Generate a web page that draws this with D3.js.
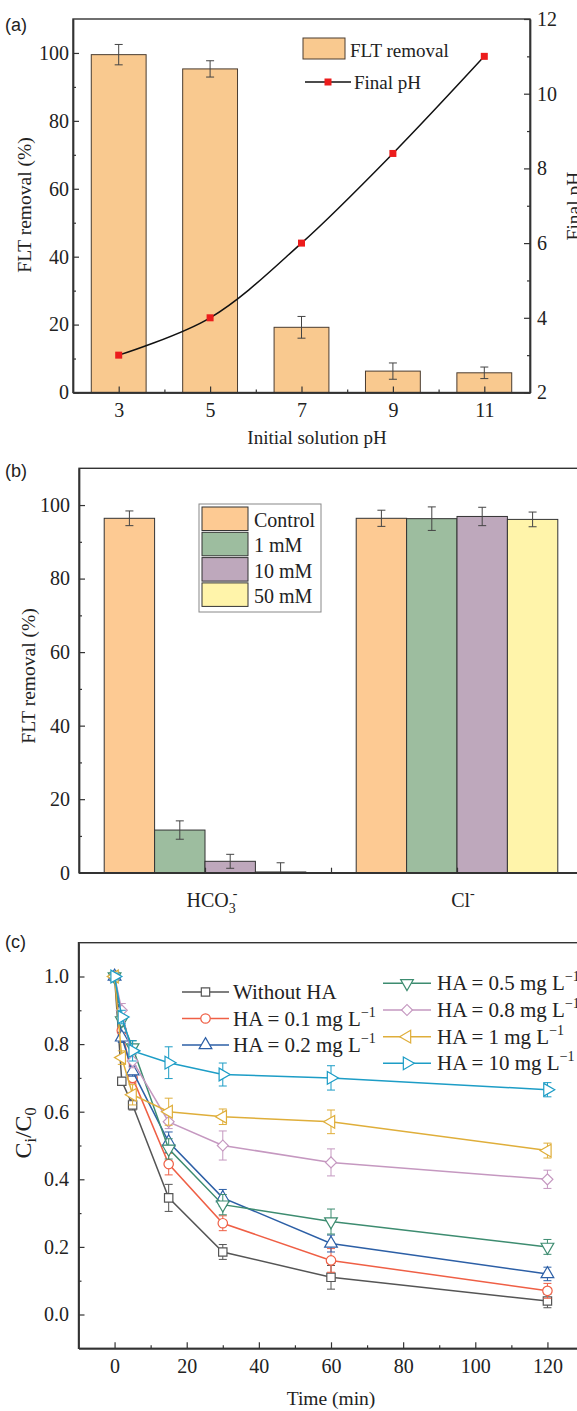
<!DOCTYPE html>
<html>
<head>
<meta charset="utf-8">
<title>FLT removal</title>
<script src="https://cdn.jsdelivr.net/npm/d3@7"></script>
<style>
  body { margin: 0; background: #fff; }
  svg text { font-family: "Liberation Serif", "Times New Roman", serif; fill: #222; }
  svg text.tag { font-family: "Liberation Sans", Arial, sans-serif; }
</style>
</head>
<body>
<script>
// panel (a): initial pH vs removal and final pH
var phInit = [3, 5, 7, 9, 11];
var removalA = [99.5, 95.3, 19.2, 6.3, 5.8];
var removalAErr = [3.0, 2.4, 3.2, 2.4, 1.7];
var phFinal = [3.0, 4.0, 6.0, 8.4, 11.0];

// panel (b): anions
var anions = ["HCO3", "Cl"];
var doses = ["Control", "1 mM", "10 mM", "50 mM"];
var hco3Removal = [96.4, 11.6, 3.1, 0.2];
var hco3Err = [2.0, 2.5, 1.9, 2.5];
var clRemoval = [96.4, 96.3, 96.9, 96.1];
var clErr = [2.2, 3.2, 2.5, 2.0];

// panel (c): HA kinetics
var times = [0, 2, 5, 15, 30, 60, 120];
var haDose = ["", "0.1", "0.2", "0.5", "0.8", "1", "10"];
var withoutHA = [1.0, 0.69, 0.62, 0.345, 0.185, 0.11, 0.04];
var ha01 = [1.0, 0.84, 0.70, 0.445, 0.27, 0.16, 0.07];
var ha02 = [1.0, 0.82, 0.72, 0.51, 0.345, 0.21, 0.12];
var ha05 = [1.0, 0.87, 0.79, 0.49, 0.325, 0.275, 0.20];
var ha08 = [1.0, 0.90, 0.75, 0.57, 0.50, 0.45, 0.40];
var ha1 = [1.0, 0.76, 0.65, 0.60, 0.585, 0.57, 0.485];
var ha10 = [1.0, 0.88, 0.78, 0.745, 0.71, 0.70, 0.665];
var withoutHAErr = [0.01, 0.01, 0.015, 0.04, 0.022, 0.035, 0.02];
var ha01Err = [0.01, 0.015, 0.015, 0.032, 0.022, 0.035, 0.022];
var ha02Err = [0.01, 0.015, 0.015, 0.03, 0.025, 0.025, 0.02];
var ha05Err = [0.01, 0.015, 0.02, 0.03, 0.03, 0.037, 0.022];
var ha08Err = [0.01, 0.02, 0.02, 0.02, 0.043, 0.04, 0.027];
var ha1Err = [0.01, 0.02, 0.03, 0.04, 0.023, 0.035, 0.022];
var ha10Err = [0.01, 0.02, 0.03, 0.047, 0.034, 0.036, 0.021];

var W = 577, H = 1411;
var svg = d3.select("body").append("svg").attr("width", W).attr("height", H);
var ink = "#333";

function styleAxis(g, size) {
  g.attr("font-family", '"Liberation Serif", serif').attr("font-size", size || 20).style("color", ink);
  g.selectAll("path").attr("stroke-width", 1.4);
  g.selectAll("line").attr("stroke-width", 1.2);
  g.selectAll("text").attr("fill", "#222");
}

function box(x0, x1, y0, y1) {
  svg.append("rect").attr("x", x0).attr("y", y0).attr("width", x1 - x0).attr("height", y1 - y0)
     .attr("fill", "none").attr("stroke", ink).attr("stroke-width", 1.4);
}

function errBar(g, x, yTop, yBot, color, cap) {
  g.append("line").attr("x1", x).attr("x2", x).attr("y1", yTop).attr("y2", yBot)
   .attr("stroke", color).attr("stroke-width", 1);
  [yTop, yBot].forEach(function(y) {
    g.append("line").attr("x1", x - cap).attr("x2", x + cap).attr("y1", y).attr("y2", y)
     .attr("stroke", color).attr("stroke-width", 1);
  });
}

// ================= (a) =================
var ax = d3.scaleLinear().domain([2, 12]).range([73, 530]);
var ayL = d3.scaleLinear().domain([0, 110]).range([392.5, 19]);
var ayR = d3.scaleLinear().domain([2, 12]).range([392.5, 19]);
var gA = svg.append("g");

gA.selectAll("rect.bar").data(phInit).enter().append("rect")
  .attr("x", function(d) { return ax(d - 0.6); })
  .attr("width", ax(1.2) - ax(0))
  .attr("y", function(d, i) { return ayL(removalA[i]); })
  .attr("height", function(d, i) { return ayL(0) - ayL(removalA[i]); })
  .attr("fill", "#f9c98f").attr("stroke", "#4a3c30").attr("stroke-width", 1);

phInit.forEach(function(d, i) {
  errBar(gA, ax(d), ayL(removalA[i] + removalAErr[i]), ayL(removalA[i] - removalAErr[i]), "#444", 4);
});

var lineA = d3.line().x(function(d) { return ax(d); })
  .y(function(d, i) { return ayR(phFinal[i]); }).curve(d3.curveCatmullRom);
gA.append("path").attr("d", lineA(phInit)).attr("fill", "none").attr("stroke", "#111").attr("stroke-width", 1.5);
gA.selectAll("rect.pt").data(phInit).enter().append("rect")
  .attr("x", function(d) { return ax(d) - 3.5; })
  .attr("y", function(d, i) { return ayR(phFinal[i]) - 3.5; })
  .attr("width", 7).attr("height", 7).attr("fill", "#ec1c1c");

box(73, 530, 19, 392.5);
var gax = svg.append("g").attr("transform", "translate(0,392.5)")
  .call(d3.axisBottom(ax).tickValues(phInit).tickSize(-6).tickSizeOuter(0).tickPadding(10));
styleAxis(gax);
styleAxis(svg.append("g").attr("transform", "translate(0,392.5)")
  .call(d3.axisBottom(ax).tickValues([4, 6, 8, 10]).tickSize(-3).tickSizeOuter(0).tickFormat("")));
styleAxis(svg.append("g").attr("transform", "translate(73,0)")
  .call(d3.axisLeft(ayL).tickValues([0, 20, 40, 60, 80, 100]).tickSize(-6).tickSizeOuter(0).tickPadding(4)));
styleAxis(svg.append("g").attr("transform", "translate(73,0)")
  .call(d3.axisLeft(ayL).tickValues([10, 30, 50, 70, 90]).tickSize(-3).tickSizeOuter(0).tickFormat("")));
styleAxis(svg.append("g").attr("transform", "translate(530,0)")
  .call(d3.axisRight(ayR).tickValues([2, 4, 6, 8, 10, 12]).tickSize(-6).tickSizeOuter(0).tickPadding(7)));
styleAxis(svg.append("g").attr("transform", "translate(530,0)")
  .call(d3.axisRight(ayR).tickValues([3, 5, 7, 9, 11]).tickSize(-3).tickSizeOuter(0).tickFormat("")));

svg.append("text").attr("class", "tag").attr("x", 5).attr("y", 31).attr("font-size", 18).text("(a)");
svg.append("text").attr("transform", "translate(31,205) rotate(-90)").attr("text-anchor", "middle")
  .attr("font-size", 19.5).text("FLT removal (%)");
svg.append("text").attr("transform", "translate(580,206) rotate(-90)").attr("text-anchor", "middle")
  .attr("font-size", 19.5).text("Final pH");
svg.append("text").attr("x", 317).attr("y", 444).attr("text-anchor", "middle")
  .attr("font-size", 19).text("Initial solution pH");

// legend (a)
svg.append("rect").attr("x", 303).attr("y", 38).attr("width", 42).attr("height", 21)
  .attr("fill", "#f9c98f").attr("stroke", "#4a3c30");
svg.append("text").attr("x", 350).attr("y", 57).attr("font-size", 19).text("FLT removal");
svg.append("line").attr("x1", 305).attr("x2", 351).attr("y1", 82).attr("y2", 82)
  .attr("stroke", "#111").attr("stroke-width", 1.5);
svg.append("rect").attr("x", 324.5).attr("y", 78.5).attr("width", 7).attr("height", 7).attr("fill", "#ec1c1c");
svg.append("text").attr("x", 354).attr("y", 89).attr("font-size", 19).text("Final pH");

// ================= (b) =================
var bx = d3.scaleLinear().domain([0.5, 2.5]).range([79, 583]);
var by = d3.scaleLinear().domain([0, 110]).range([872.7, 468.3]);
var inner = d3.scaleBand().domain(doses).range([-0.4, 0.4]);
var doseColors = ["#fdca93", "#9dbd9f", "#bea8bc", "#fff4aa"];
var gB = svg.append("g");
svg.append("clipPath").attr("id", "clipB").append("rect")
  .attr("x", 79).attr("y", 468.3).attr("width", 504).attr("height", 872.7 - 468.3);

var barsB = [];
anions.forEach(function(a, gi) {
  var vals = gi === 0 ? hco3Removal : clRemoval;
  var errs = gi === 0 ? hco3Err : clErr;
  doses.forEach(function(d, i) {
    barsB.push({ c: gi + 1, dose: d, i: i, v: vals[i], e: errs[i] });
  });
});

gB.selectAll("rect").data(barsB).enter().append("rect")
  .attr("x", function(d) { return bx(d.c + inner(d.dose)); })
  .attr("width", bx(1 + inner.bandwidth()) - bx(1))
  .attr("y", function(d) { return by(d.v); })
  .attr("height", function(d) { return by(0) - by(d.v); })
  .attr("fill", function(d) { return doseColors[d.i]; })
  .attr("stroke", "#333").attr("stroke-width", 1);

var gBe = svg.append("g").attr("clip-path", "url(#clipB)");
barsB.forEach(function(d) {
  errBar(gBe, bx(d.c + inner(d.dose) + inner.bandwidth() / 2), by(d.v + d.e), by(d.v - d.e), "#444", 4);
});

box(79, 583, 468.3, 872.7);
styleAxis(svg.append("g").attr("transform", "translate(0,872.7)")
  .call(d3.axisBottom(bx).tickValues([1, 1.5, 2]).tickSize(-5).tickSizeOuter(0).tickFormat("")));
styleAxis(svg.append("g").attr("transform", "translate(79,0)")
  .call(d3.axisLeft(by).tickValues([0, 20, 40, 60, 80, 100]).tickSize(-6).tickSizeOuter(0).tickPadding(9)));
styleAxis(svg.append("g").attr("transform", "translate(79,0)")
  .call(d3.axisLeft(by).tickValues([10, 30, 50, 70, 90]).tickSize(-3).tickSizeOuter(0).tickFormat("")));

var t1 = svg.append("text").attr("x", bx(1) + 7).attr("y", 907).attr("text-anchor", "middle").attr("font-size", 20);
t1.append("tspan").text("HCO");
t1.append("tspan").attr("font-size", 14).attr("dy", 6).text("3");
t1.append("tspan").attr("font-size", 14).attr("dx", -3).attr("dy", -15).text("-");
var t2 = svg.append("text").attr("x", bx(2) + 6).attr("y", 907).attr("text-anchor", "middle").attr("font-size", 20);
t2.append("tspan").text("Cl");
t2.append("tspan").attr("font-size", 14).attr("dy", -9).text("-");

svg.append("text").attr("class", "tag").attr("x", 5).attr("y", 477).attr("font-size", 18).text("(b)");
svg.append("text").attr("transform", "translate(35,676) rotate(-90)").attr("text-anchor", "middle")
  .attr("font-size", 19.5).text("FLT removal (%)");

// legend (b)
svg.append("rect").attr("x", 199).attr("y", 504).attr("width", 122).attr("height", 108)
  .attr("fill", "#fff").attr("stroke", "#888").attr("stroke-width", 1);
doses.forEach(function(d, i) {
  var y0 = 507 + i * 25.3;
  svg.append("rect").attr("x", 202).attr("y", y0).attr("width", 46).attr("height", 23.5)
    .attr("fill", doseColors[i]).attr("stroke", "#333");
  svg.append("text").attr("x", 254).attr("y", y0 + 20).attr("font-size", 20).text(d);
});

// ================= (c) =================
var cx = d3.scaleLinear().domain([-10, 130]).range([78.5, 583.5]);
var cy = d3.scaleLinear().domain([-0.1, 1.1]).range([1348.3, 942.7]);
var cVals = [withoutHA, ha01, ha02, ha05, ha08, ha1, ha10];
var cErrs = [withoutHAErr, ha01Err, ha02Err, ha05Err, ha08Err, ha1Err, ha10Err];
var cColors = ["#555555", "#ef5f45", "#2c5fa6", "#3d8c70", "#c598c0", "#dfae3a", "#1d9dc6"];
var cSyms = [d3.symbolSquare, d3.symbolCircle, d3.symbolTriangle, d3.symbolTriangle,
             d3.symbolSquare, d3.symbolTriangle, d3.symbolTriangle];
var cRot = [0, 0, 0, 180, 45, -90, 90];
var cSize = [70, 70, 70, 70, 60, 70, 70];

function marker(g, x, y, i) {
  g.append("path").attr("d", d3.symbol().type(cSyms[i]).size(cSize[i])())
   .attr("transform", "translate(" + x + "," + y + ") rotate(" + cRot[i] + ")")
   .attr("fill", "#fff").attr("stroke", cColors[i]).attr("stroke-width", 1.2);
}

var gC = svg.append("g");
var lineC = d3.line().x(function(d) { return cx(d[0]); }).y(function(d) { return cy(d[1]); });
cVals.forEach(function(vals, s) {
  var pts = times.map(function(t, k) { return [t, vals[k]]; });
  var g = gC.append("g");
  g.append("path").attr("d", lineC(pts)).attr("fill", "none")
    .attr("stroke", cColors[s]).attr("stroke-width", 1.5);
  pts.forEach(function(p, k) {
    var e = cErrs[s][k];
    errBar(g, cx(p[0]), cy(p[1] + e), cy(p[1] - e), cColors[s], 4);
  });
  pts.forEach(function(p) { marker(g, cx(p[0]), cy(p[1]), s); });
});

box(78.5, 583.5, 942.7, 1348.3);
styleAxis(svg.append("g").attr("transform", "translate(0,1348.3)")
  .call(d3.axisBottom(cx).tickValues([0, 20, 40, 60, 80, 100, 120]).tickSize(-6).tickSizeOuter(0).tickPadding(10.5)));
styleAxis(svg.append("g").attr("transform", "translate(0,1348.3)")
  .call(d3.axisBottom(cx).tickValues([10, 30, 50, 70, 90, 110]).tickSize(-3).tickSizeOuter(0).tickFormat("")));
styleAxis(svg.append("g").attr("transform", "translate(78.5,0)")
  .call(d3.axisLeft(cy).tickValues([0, 0.2, 0.4, 0.6, 0.8, 1.0]).tickFormat(d3.format(".1f"))
    .tickSize(-6).tickSizeOuter(0).tickPadding(9.5)));
styleAxis(svg.append("g").attr("transform", "translate(78.5,0)")
  .call(d3.axisLeft(cy).tickValues([0.1, 0.3, 0.5, 0.7, 0.9]).tickSize(-3).tickSizeOuter(0).tickFormat("")));

svg.append("text").attr("class", "tag").attr("x", 5).attr("y", 948).attr("font-size", 18).text("(c)");
svg.append("text").attr("x", cx(60)).attr("y", 1405).attr("text-anchor", "middle")
  .attr("font-size", 19.5).text("Time (min)");
var yl = svg.append("text").attr("transform", "translate(31,1133) rotate(-90)")
  .attr("text-anchor", "middle").attr("font-size", 24);
yl.append("tspan").text("C");
yl.append("tspan").attr("font-size", 16).attr("dy", 5).text("i");
yl.append("tspan").attr("dy", -5).text("/C");
yl.append("tspan").attr("font-size", 16).attr("dy", 5).text("0");

// legend (c)
var legPos = [
  [182, 229, 233, 992], [182, 229, 233, 1018.5], [182, 229, 233, 1045],
  [383, 431, 437, 983.3], [383, 431, 437, 1010], [383, 431, 437, 1036.7], [383, 431, 437, 1063.3]
];
legPos.forEach(function(p, i) {
  svg.append("line").attr("x1", p[0]).attr("x2", p[1]).attr("y1", p[3]).attr("y2", p[3])
    .attr("stroke", cColors[i]).attr("stroke-width", 1.5);
  marker(svg, (p[0] + p[1]) / 2, p[3], i);
  var t = svg.append("text").attr("x", p[2]).attr("y", p[3] + 7).attr("font-size", 21);
  if (haDose[i] === "") {
    t.text("Without HA");
  } else {
    t.append("tspan").text("HA = " + haDose[i] + " mg L");
    t.append("tspan").attr("font-size", 14).attr("dy", -9).text("\u22121");
  }
});
</script>
</body>
</html>
